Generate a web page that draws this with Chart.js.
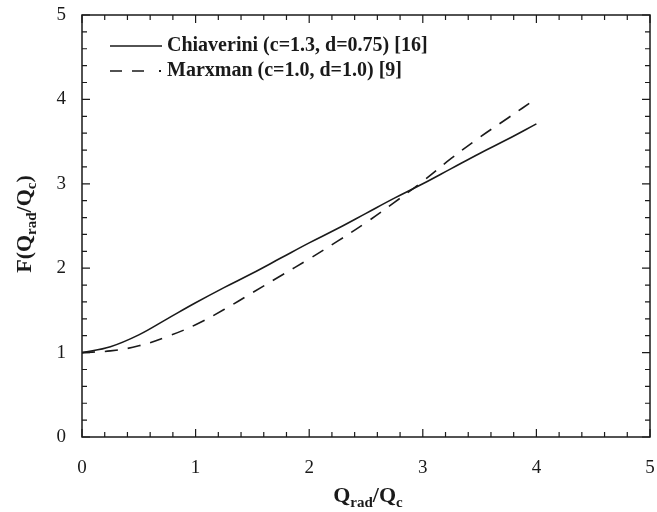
<!DOCTYPE html>
<html>
<head>
<meta charset="utf-8">
<script src="https://cdn.jsdelivr.net/npm/chart.js@4.4.0/dist/chart.umd.min.js"></script>
<style>
  html, body { margin: 0; padding: 0; background: #fff; }
  #wrap { width: 657px; height: 512px; position: relative; }
</style>
</head>
<body>
<div id="wrap"><canvas id="myCanvas"></canvas></div>
<script>
// data
const xValues = [0, 0.25, 0.5, 0.75, 1.0, 1.25, 1.5, 1.75, 2.0, 2.25, 2.5, 2.75, 3.0, 3.25, 3.5, 3.75, 4.0];
const chiaverini = [1.00, 1.07, 1.21, 1.40, 1.59, 1.77, 1.94, 2.12, 2.30, 2.47, 2.65, 2.83, 3.00, 3.18, 3.36, 3.53, 3.71];
const marxman = [1.00, 1.02, 1.08, 1.19, 1.33, 1.51, 1.71, 1.91, 2.11, 2.32, 2.54, 2.78, 3.03, 3.30, 3.55, 3.78, 4.01];
const seriesNames = ['Chiaverini (c=1.3, d=0.75) [16]', 'Marxman (c=1.0, d=1.0) [9]'];
const xTicks = [0, 1, 2, 3, 4, 5];
const yTicks = [0, 1, 2, 3, 4, 5];

const ink = '#1a1a1a';
const serif = '"Liberation Serif", "DejaVu Serif", serif';

function toPoints(ys) {
  return xValues.map((x, i) => ({ x: x, y: ys[i] }));
}

// frame, inward ticks on all four sides, legend and axis titles
const decorPlugin = {
  id: 'decor',
  afterDraw(chart) {
    const ctx = chart.ctx;
    const a = chart.chartArea;
    const xs = chart.scales.x, ys = chart.scales.y;
    ctx.save();
    ctx.strokeStyle = ink;
    ctx.lineWidth = 1.5;
    ctx.strokeRect(a.left, a.top, a.right - a.left, a.bottom - a.top);

    ctx.lineWidth = 1.2;
    for (let i = 0; i <= 25; i++) {
      const v = i * 0.2;
      const major = i % 5 === 0;
      const len = major ? 8 : 5;
      const px = xs.getPixelForValue(v);
      const py = ys.getPixelForValue(v);
      ctx.beginPath();
      ctx.moveTo(px, a.bottom); ctx.lineTo(px, a.bottom - len);
      ctx.moveTo(px, a.top); ctx.lineTo(px, a.top + len);
      ctx.moveTo(a.left, py); ctx.lineTo(a.left + len, py);
      ctx.moveTo(a.right, py); ctx.lineTo(a.right - len, py);
      ctx.stroke();
    }

    // legend
    ctx.fillStyle = ink;
    ctx.font = 'bold 20px ' + serif;
    ctx.textBaseline = 'middle';
    ctx.lineWidth = 1.5;
    ctx.beginPath();
    ctx.moveTo(110, 46); ctx.lineTo(162, 46);
    ctx.stroke();
    ctx.fillText(seriesNames[0], 167, 46);
    ctx.setLineDash([12, 10]);
    ctx.beginPath();
    ctx.moveTo(110, 71); ctx.lineTo(154, 71);
    ctx.stroke();
    ctx.setLineDash([]);
    ctx.fillRect(159, 70, 2, 2);
    ctx.fillText(seriesNames[1], 167, 71);

    // x axis title  Q_rad/Q_c
    ctx.textBaseline = 'alphabetic';
    drawSubTitle(ctx, 368, 502, 0);
    // y axis title  F(Q_rad/Q_c)
    ctx.save();
    ctx.translate(31, 224);
    ctx.rotate(-Math.PI / 2);
    drawSubTitle(ctx, 0, 0, 1);
    ctx.restore();
    ctx.restore();
  }
};

function drawSubTitle(ctx, cx, baseY, withF) {
  const big = 'bold 22px ' + serif;
  const small = 'bold 15px ' + serif;
  const parts = withF
    ? [['F(Q', big, 0], ['rad', small, 5], ['/Q', big, 0], ['c', small, 5], [')', big, 0]]
    : [['Q', big, 0], ['rad', small, 5], ['/Q', big, 0], ['c', small, 5]];
  let total = 0;
  parts.forEach(p => { ctx.font = p[1]; total += ctx.measureText(p[0]).width; });
  let x = cx - total / 2;
  ctx.textAlign = 'left';
  parts.forEach(p => {
    ctx.font = p[1];
    ctx.fillText(p[0], x, baseY + p[2]);
    x += ctx.measureText(p[0]).width;
  });
}

const ctx = document.getElementById('myCanvas').getContext('2d');
new Chart(ctx, {
  type: 'scatter',
  data: {
    datasets: [
      {
        label: seriesNames[0],
        data: toPoints(chiaverini),
        showLine: true,
        borderColor: ink,
        borderWidth: 1.6,
        pointRadius: 0,
        tension: 0.4
      },
      {
        label: seriesNames[1],
        data: toPoints(marxman),
        showLine: true,
        borderColor: ink,
        borderWidth: 1.6,
        borderDash: [13, 10],
        pointRadius: 0,
        tension: 0.4
      }
    ]
  },
  options: {
    responsive: true,
    maintainAspectRatio: false,
    animation: false,
    layout: { padding: { top: 15, right: 7, bottom: 0, left: 0 } },
    plugins: {
      legend: { display: false },
      tooltip: { enabled: false }
    },
    scales: {
      x: {
        type: 'linear',
        min: 0, max: 5,
        afterBuildTicks: s => { s.ticks = xTicks.map(v => ({ value: v })); },
        afterFit: s => { s.height = 75; s.paddingLeft = 0; s.paddingRight = 0; },
        grid: { display: false, drawTicks: false },
        border: { display: false },
        ticks: { color: ink, font: { family: serif, size: 19 }, padding: 20, maxRotation: 0 }
      },
      y: {
        type: 'linear',
        min: 0, max: 5,
        afterBuildTicks: s => { s.ticks = yTicks.map(v => ({ value: v })); },
        afterFit: s => { s.width = 82; s.paddingTop = 0; s.paddingBottom = 0; },
        grid: { display: false, drawTicks: false },
        border: { display: false },
        ticks: { color: ink, font: { family: serif, size: 19 }, padding: 16 }
      }
    }
  },
  plugins: [decorPlugin]
});
</script>
</body>
</html>
